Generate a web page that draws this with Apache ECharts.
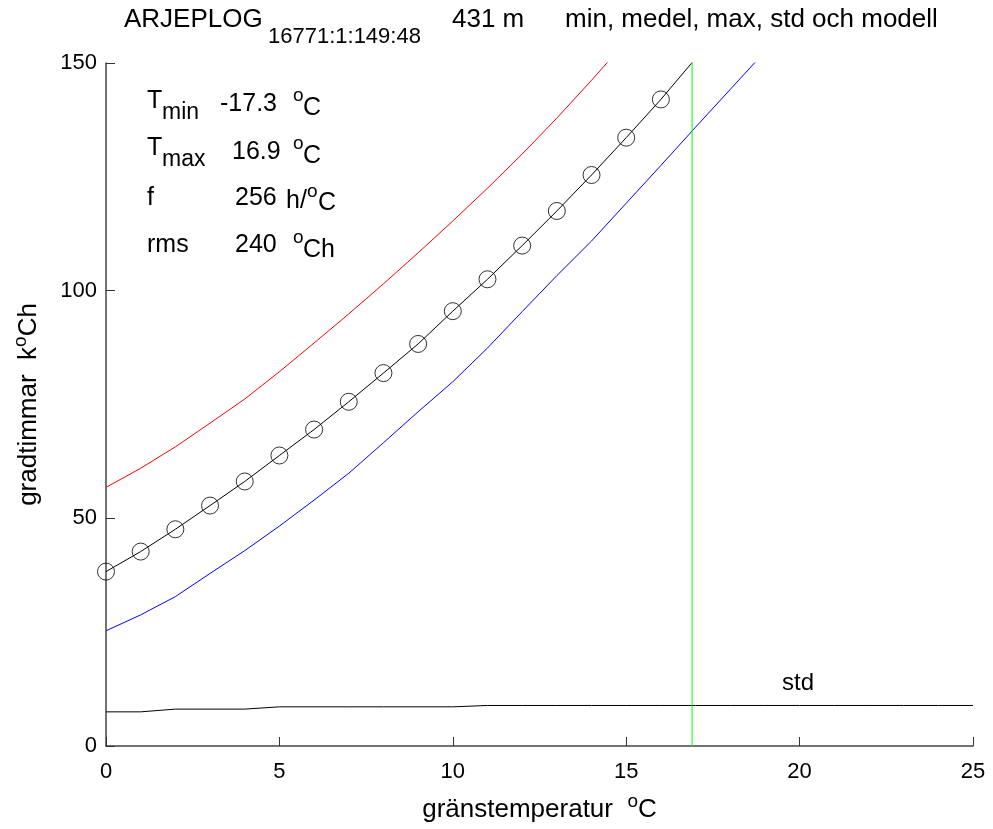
<!DOCTYPE html>
<html>
<head>
<meta charset="utf-8">
<script src="https://cdn.jsdelivr.net/npm/echarts@6/dist/echarts.min.js"></script>
<style>html,body{margin:0;padding:0;background:#fff;}#c{width:993px;height:829px;}</style>
</head>
<body>
<div id="c"></div>
<script>
const temps = [0,1,2,3,4,5,6,7,8,9,10,11,12,13,14,15,16,17,18,19,20,21,22,23,24,25];
const maxValues = [56.8, 61.0, 65.7, 70.9, 76.2, 82.2, 88.5, 94.9, 101.5, 108.3, 115.3, 122.5, 130.0, 137.9, 146.2, 154.8];
const minValues = [25.3, 28.8, 32.8, 37.9, 42.9, 48.3, 54.0, 59.9, 66.6, 73.4, 80.0, 87.4, 95.4, 103.3, 110.9, 119.2, 127.5, 135.9, 144.2, 152.5];
const meanValues = [38.3, 42.7, 47.6, 52.8, 58.1, 63.8, 69.5, 75.6, 81.9, 88.3, 95.5, 102.5, 109.9, 117.5, 125.4, 133.6, 142.0];
const modelValues = [38.3, 42.7, 47.6, 52.8, 58.1, 63.8, 69.5, 75.6, 81.9, 88.3, 95.5, 102.5, 109.9, 117.5, 125.4, 133.6, 142.0, 151.0];
const stdValues = [7.5, 7.5, 8.1, 8.1, 8.1, 8.6, 8.6, 8.6, 8.6, 8.6, 8.6, 8.9, 8.9, 8.9, 8.9, 8.9, 8.9, 8.9, 8.9, 8.9, 8.9, 8.9, 8.9, 8.9, 8.9, 8.9];
const tMax = 16.9;
const yRange = [0, 150];
const xTicks = [0, 5, 10, 15, 20, 25];
const yTicks = [0, 50, 100, 150];

const pair = (vals) => vals.map((v, i) => [temps[i], v]);
const FONT = 'Liberation Sans, Arial, sans-serif';
const chart = echarts.init(document.getElementById('c'), null, {renderer: 'canvas'});

function txt(x, y, s, size) {
  return {type: 'text', x: x, y: y, style: {text: s, font: (size || 24) + 'px ' + FONT, fill: '#000', verticalAlign: 'middle', align: 'left'}};
}

const nameRich = {a: {fontSize: 26, fontFamily: FONT, color: '#000'}, s: {fontSize: 19, fontFamily: FONT, color: '#000', padding: [0, 0, 16, 0]}};

const option = {
  backgroundColor: '#fff',
  animation: false,
  grid: {left: 106, right: 20, top: 63, bottom: 83, containLabel: false},
  xAxis: {
    type: 'value', min: xTicks[0], max: xTicks[xTicks.length - 1], interval: 5,
    axisLine: {show: true, lineStyle: {color: '#444', width: 1.5}},
    axisTick: {show: true, inside: true, length: 9, lineStyle: {color: '#333'}},
    splitLine: {show: false},
    axisLabel: {color: '#000', fontSize: 22, fontFamily: FONT, margin: 15},
    name: '{a|gränstemperatur  }{s|o}{a|C}', nameLocation: 'middle', nameGap: 46,
    nameTextStyle: {rich: nameRich}
  },
  yAxis: {
    type: 'value', min: yRange[0], max: yRange[1], interval: 50,
    axisLine: {show: true, lineStyle: {color: '#444', width: 1.5}},
    axisTick: {show: true, inside: true, length: 9, lineStyle: {color: '#333'}},
    splitLine: {show: false},
    axisLabel: {color: '#000', fontSize: 22, fontFamily: FONT, margin: 9},
    name: '{a|gradtimmar  k}{s|o}{a|Ch}', nameLocation: 'middle', nameGap: 60, nameRotate: 90,
    nameTextStyle: {rich: nameRich}
  },
  series: [
    {type: 'line', data: pair(maxValues), showSymbol: false, symbol: 'none', clip: true, lineStyle: {color: '#ff0000', width: 1}},
    {type: 'line', data: pair(minValues), showSymbol: false, symbol: 'none', clip: true, lineStyle: {color: '#0000ff', width: 1}},
    {type: 'line', data: pair(modelValues), showSymbol: false, symbol: 'none', clip: true, lineStyle: {color: '#000', width: 1}},
    {type: 'scatter', data: pair(meanValues), symbol: 'circle', symbolSize: 17, itemStyle: {color: 'rgba(0,0,0,0)', borderColor: '#000', borderWidth: 1}},
    {type: 'line', data: pair(stdValues), showSymbol: false, symbol: 'none', lineStyle: {color: '#000', width: 1}},
    {type: 'line', data: [[tMax, yRange[0]], [tMax, yRange[1]]], showSymbol: false, symbol: 'none', lineStyle: {color: '#00ff00', width: 1}}
  ],
  graphic: [
    txt(124, 20, 'ARJEPLOG', 26),
    txt(268, 37, '16771:1:149:48', 22),
    txt(452, 20, '431 m', 26),
    txt(565, 20, 'min, medel, max, std och modell', 26),
    txt(147, 101, 'T', 25), txt(162, 113, 'min', 23), txt(220, 104, '-17.3', 25), txt(293, 96, 'o', 19), txt(303, 108, 'C', 25),
    txt(147, 148, 'T', 25), txt(162, 160, 'max', 23), txt(232, 152, '16.9', 25), txt(293, 144, 'o', 19), txt(303, 156, 'C', 25),
    txt(147, 198, 'f', 25), txt(235, 198, '256', 25), txt(286, 201, 'h/', 25), txt(307, 192, 'o', 19), txt(318, 203, 'C', 25),
    txt(147, 245, 'rms', 25), txt(235, 245, '240', 25), txt(293, 238, 'o', 19), txt(303, 250, 'Ch', 25),
    txt(782, 683, 'std', 24)
  ]
};
chart.setOption(option);
</script>
</body>
</html>
